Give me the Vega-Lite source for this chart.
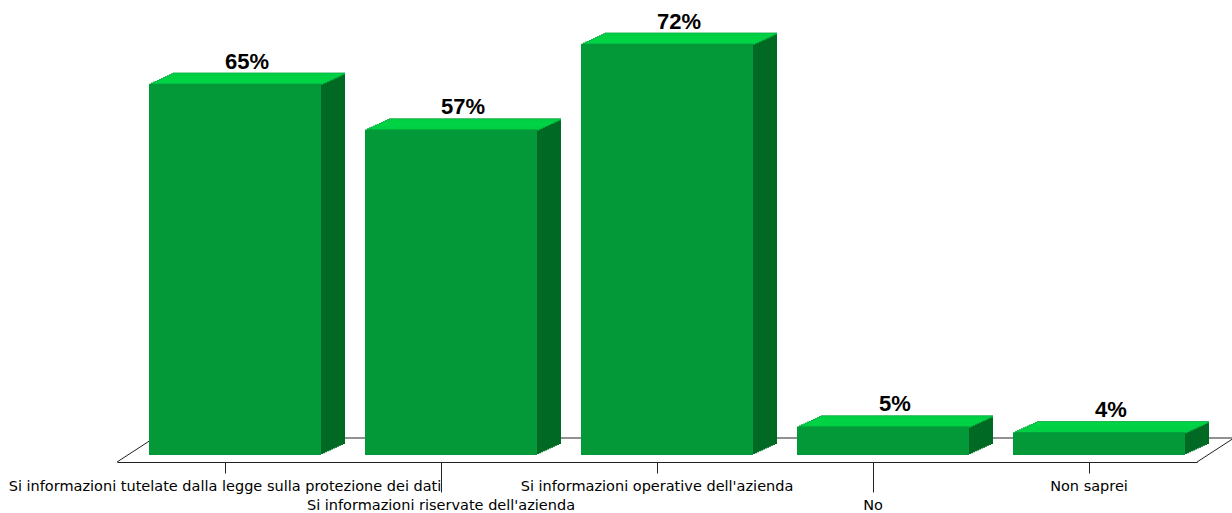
{
  "$schema": "https://vega.github.io/schema/vega-lite/v6.json",
  "width": 1080,
  "height": 457,
  "autosize": {"type": "none"},
  "padding": {"left": 117, "top": 5, "right": 35, "bottom": 51},
  "background": "white",
  "config": {"view": {"stroke": null}},
  "data": {"values": [
    {"cat": "Si informazioni tutelate dalla legge sulla protezione dei dati", "v": 65, "label": "65%"},
    {"cat": "Si informazioni riservate dell'azienda", "v": 57, "label": "57%"},
    {"cat": "Si informazioni operative dell'azienda", "v": 72, "label": "72%"},
    {"cat": "No", "v": 5, "label": "5%"},
    {"cat": "Non saprei", "v": 4, "label": "4%"}
  ]},
  "encoding": {
    "x": {
      "field": "cat", "type": "nominal", "title": null,
      "scale": {
        "domain": ["Si informazioni tutelate dalla legge sulla protezione dei dati", "Si informazioni riservate dell'azienda", "Si informazioni operative dell'azienda", "No", "Non saprei"],
        "paddingInner": 0, "paddingOuter": 0
      },
      "axis": {
        "labelAngle": 0, "labelFont": "DejaVu Sans", "labelFontSize": 14.5, "labelColor": "#000000",
        "labelLimit": 1000, "labelOverlap": false, "labelFlush": false, "labelPadding": 6,
        "domainColor": "#222222", "tickColor": "#222222",
        "tickSize": {"condition": {"test": "datum.value === 'No' || indexof(datum.value, 'riservate') >= 0", "value": 30}, "value": 11}
      }
    },
    "y": {"field": "v", "type": "quantitative", "scale": {"domain": [0, 80]}, "axis": null}
  },
  "layer": [
    {
      "mark": {"type": "rule", "color": "#222222", "strokeWidth": 1, "xOffset": -71, "x2Offset": 145, "yOffset": -24, "y2Offset": -24},
      "encoding": {"x2": {"field": "cat"}, "y": {"datum": 0}, "y2": {"datum": 0}}
    },
    {
      "transform": [{"filter": "datum.cat === 'Non saprei'"}],
      "mark": {"type": "rule", "color": "#222222", "strokeWidth": 1, "xOffset": 108, "x2Offset": 145, "yOffset": 0, "y2Offset": -24},
      "encoding": {"x2": {"field": "cat"}, "y": {"datum": 0}, "y2": {"datum": 0}}
    },
    {
      "transform": [{"filter": "datum.cat === 'Si informazioni tutelate dalla legge sulla protezione dei dati'"}],
      "mark": {"type": "rule", "color": "#222222", "strokeWidth": 1, "xOffset": -108, "x2Offset": -71, "yOffset": 0, "y2Offset": -24},
      "encoding": {"x2": {"field": "cat"}, "y": {"datum": 0}, "y2": {"datum": 0}}
    },
    {"mark": {"type": "bar", "width": 172, "color": "#006a24", "xOffset": 34, "yOffset": -18, "y2Offset": -18}},
    {"mark": {"type": "bar", "width": 172, "color": "#006a24", "xOffset": 32, "yOffset": -17.08, "y2Offset": -17.08}},
    {"mark": {"type": "bar", "width": 172, "color": "#006a24", "xOffset": 30, "yOffset": -16.17, "y2Offset": -16.17}},
    {"mark": {"type": "bar", "width": 172, "color": "#006a24", "xOffset": 28, "yOffset": -15.25, "y2Offset": -15.25}},
    {"mark": {"type": "bar", "width": 172, "color": "#006a24", "xOffset": 26, "yOffset": -14.33, "y2Offset": -14.33}},
    {"mark": {"type": "bar", "width": 172, "color": "#006a24", "xOffset": 24, "yOffset": -13.42, "y2Offset": -13.42}},
    {"mark": {"type": "bar", "width": 172, "color": "#006a24", "xOffset": 22, "yOffset": -12.5, "y2Offset": -12.5}},
    {"mark": {"type": "bar", "width": 172, "color": "#006a24", "xOffset": 20, "yOffset": -11.58, "y2Offset": -11.58}},
    {"mark": {"type": "bar", "width": 172, "color": "#006a24", "xOffset": 18, "yOffset": -10.67, "y2Offset": -10.67}},
    {"mark": {"type": "bar", "width": 172, "color": "#006a24", "xOffset": 16, "yOffset": -9.75, "y2Offset": -9.75}},
    {"mark": {"type": "bar", "width": 172, "color": "#006a24", "xOffset": 14, "yOffset": -8.83, "y2Offset": -8.83}},
    {"mark": {"type": "bar", "width": 172, "color": "#006a24", "xOffset": 12, "yOffset": -7.92, "y2Offset": -7.92}},
    {"mark": {"type": "tick", "orient": "horizontal", "size": 172, "thickness": 2, "color": "#00dc48", "xOffset": 12, "yOffset": -6.92}},
    {"mark": {"type": "tick", "orient": "horizontal", "size": 172, "thickness": 2, "color": "#00dc48", "xOffset": 14, "yOffset": -7.83}},
    {"mark": {"type": "tick", "orient": "horizontal", "size": 172, "thickness": 2, "color": "#00dc48", "xOffset": 16, "yOffset": -8.75}},
    {"mark": {"type": "tick", "orient": "horizontal", "size": 172, "thickness": 2, "color": "#00dc48", "xOffset": 18, "yOffset": -9.67}},
    {"mark": {"type": "tick", "orient": "horizontal", "size": 172, "thickness": 2, "color": "#00dc48", "xOffset": 20, "yOffset": -10.58}},
    {"mark": {"type": "tick", "orient": "horizontal", "size": 172, "thickness": 2, "color": "#00dc48", "xOffset": 22, "yOffset": -11.5}},
    {"mark": {"type": "tick", "orient": "horizontal", "size": 172, "thickness": 2, "color": "#00dc48", "xOffset": 24, "yOffset": -12.42}},
    {"mark": {"type": "tick", "orient": "horizontal", "size": 172, "thickness": 2, "color": "#00dc48", "xOffset": 26, "yOffset": -13.33}},
    {"mark": {"type": "tick", "orient": "horizontal", "size": 172, "thickness": 2, "color": "#00dc48", "xOffset": 28, "yOffset": -14.25}},
    {"mark": {"type": "tick", "orient": "horizontal", "size": 172, "thickness": 2, "color": "#00dc48", "xOffset": 30, "yOffset": -15.17}},
    {"mark": {"type": "tick", "orient": "horizontal", "size": 172, "thickness": 2, "color": "#00dc48", "xOffset": 32, "yOffset": -16.08}},
    {"mark": {"type": "tick", "orient": "horizontal", "size": 172, "thickness": 2, "color": "#00dc48", "xOffset": 34, "yOffset": -17}},
    {"mark": {"type": "bar", "width": 172, "color": "#039838", "xOffset": 10, "yOffset": -7, "y2Offset": -7}},
    {
      "mark": {"type": "text", "font": "Liberation Sans", "fontSize": 22, "fontWeight": "bold", "color": "#000000", "align": "center", "baseline": "alphabetic", "xOffset": 22, "yOffset": -22},
      "encoding": {"text": {"field": "label"}}
    }
  ]
}
